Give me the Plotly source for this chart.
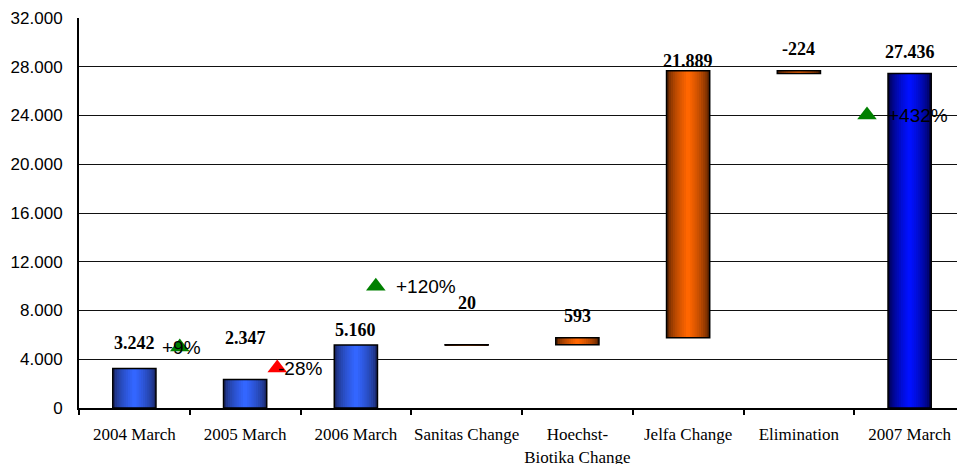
import plotly.graph_objects as go

# ---------------- data ----------------
categories = ["2004 March", "2005 March", "2006 March", "Sanitas Change",
              "Hoechst-<br>Biotika Change", "Jelfa Change", "Elimination", "2007 March"]
values = [3242, 2347, 5160, 20, 593, 21889, -224, 27436]
kinds = ["total", "total", "total", "delta", "delta", "delta", "delta", "total"]
value_labels = ["3.242", "2.347", "5.160", "20", "593", "21.889", "-224", "27.436"]

pct_labels = ["+9%", "-28%", "+120%", "+432%"]
pct_values = [5000, 3280, 10000, 24040]
pct_up = [True, False, True, True]

y_ticks = [0, 4000, 8000, 12000, 16000, 20000, 24000, 28000, 32000]

# ---------------- derived waterfall geometry ----------------
bases, heights = [], []
running = 0
for v, k in zip(values, kinds):
    if k == "total":
        bases.append(0)
        heights.append(v)
        running = v
    else:
        bases.append(running)
        heights.append(v)
        running += v
tops = [b + max(h, 0) for b, h in zip(bases, heights)]

# ---------------- styling ----------------
xs = list(range(len(categories)))
bar_w = 0.39
palettes = {
    "blue_light": ((0x1a, 0x27, 0x66), (0x33, 0x66, 0xff)),
    "blue_dark": ((0x00, 0x00, 0x45), (0x00, 0x10, 0xff)),
    "orange": ((0x55, 0x20, 0x00), (0xff, 0x66, 0x00)),
}
bar_palette = ["blue_light", "blue_light", "blue_light", "orange", "orange",
               "orange", "orange", "blue_dark"]
label_shift = [25, 41, 15, 42, 22, 10, 22, 22]   # px above bar top
pct_x = [0.41, 1.29, 2.18, 6.615]
pct_text_dx = [-0.18, -0.01, 0.16, 0.17]

def mix(c0, c1, t):
    return "rgb(%d,%d,%d)" % tuple(round(a + (b - a) * t) for a, b in zip(c0, c1))

fig = go.Figure()
steps = 10
for pal in ["blue_light", "blue_dark", "orange"]:
    idx = [i for i, p in enumerate(bar_palette) if p == pal]
    edge, center = palettes[pal]
    for s in range(steps):
        frac = 1 - s / steps
        t = (s / (steps - 1)) ** 0.6
        fig.add_trace(go.Bar(
            x=[xs[i] for i in idx],
            y=[heights[i] for i in idx],
            base=[bases[i] for i in idx],
            width=bar_w * frac,
            marker=dict(color=mix(edge, center, t), line=dict(width=0)),
            showlegend=False, hoverinfo="skip",
        ))

# bar outlines on top
fig.add_trace(go.Bar(
    x=xs, y=heights, base=bases, width=bar_w,
    marker=dict(color="rgba(0,0,0,0)", line=dict(color="black", width=1.5)),
    showlegend=False, hoverinfo="skip",
))

# percent-change triangles
fig.add_trace(go.Scatter(
    x=pct_x, y=pct_values, mode="markers",
    marker=dict(symbol="triangle-up", size=17,
                color=["#008000" if u else "#ff0000" for u in pct_up]),
    showlegend=False, hoverinfo="skip",
))
for x, y, t, dx in zip(pct_x, pct_values, pct_labels, pct_text_dx):
    fig.add_annotation(x=x + dx, y=y, text=t, showarrow=False, xanchor="left",
                       yanchor="middle",
                       font=dict(family="Liberation Sans, Arial", size=19, color="black"))

# value labels
for x, top, lab, sh in zip(xs, tops, value_labels, label_shift):
    fig.add_annotation(x=x, y=top, text="<b>%s</b>" % lab, showarrow=False,
                       yshift=sh, yanchor="middle",
                       font=dict(family="Liberation Serif, Times New Roman", size=18,
                                 color="black"))

# invisible trace to activate boundary tick axis
fig.add_trace(go.Scatter(x=[-0.5, 7.5], y=[0, 0], xaxis="x2", mode="markers",
                         marker=dict(opacity=0), showlegend=False, hoverinfo="skip"))

# page body has an 8px margin, so the figure is sized/offset to compensate
fig.update_layout(
    width=957, height=456,
    margin=dict(l=71, r=0, t=10, b=56),
    paper_bgcolor="white", plot_bgcolor="white",
    barmode="overlay",
    separators=",.",
    xaxis=dict(range=[-0.5, 7.5], tickvals=xs, ticktext=categories,
               automargin=False,
               showgrid=False, zeroline=False, showline=True, linecolor="black",
               linewidth=2, ticks="", ticklabelstandoff=10,
               tickfont=dict(family="Liberation Serif, Times New Roman", size=17,
                             color="black")),
    xaxis2=dict(range=[-0.5, 7.5], overlaying="x", side="bottom",
                automargin=False,
                tickvals=[i - 0.5 for i in range(len(categories) + 1)],
                ticks="outside", ticklen=6, tickwidth=1.5, tickcolor="black",
                showticklabels=False, showgrid=False, zeroline=False,
                showline=False),
    yaxis=dict(range=[0, 32000], tickvals=y_ticks, tickformat=",d",
               automargin=False,
               showgrid=True, gridcolor="#111", gridwidth=1, zeroline=False,
               showline=True, linecolor="black", linewidth=2,
               ticks="", ticklabelstandoff=11,
               tickfont=dict(family="Liberation Sans, Arial", size=17, color="black")),
)

fig.write_html("out.html")
